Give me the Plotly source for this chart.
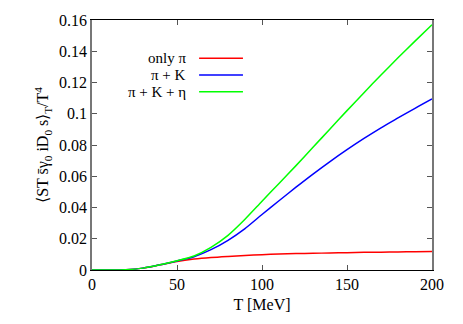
import plotly.graph_objects as go

T = [0, 10, 20, 30, 40, 50, 60, 70, 80, 90, 100, 110, 120, 130, 140, 150, 160, 170, 180, 190, 200]
only_pi = [0, 0, 0.0002, 0.0012, 0.0033, 0.0055, 0.0070, 0.0080, 0.0087, 0.0093, 0.0098,
           0.0102, 0.0105, 0.0107, 0.0109, 0.0111, 0.0113, 0.0114, 0.0116, 0.0117, 0.0118]
pi_k = [0, 0, 0.0002, 0.0012, 0.0033, 0.0058, 0.0085, 0.0130, 0.0190, 0.0265, 0.0355,
        0.0443, 0.0530, 0.0614, 0.0694, 0.0770, 0.0842, 0.0910, 0.0973, 0.1035, 0.1095]
pi_k_eta = [0, 0, 0.0002, 0.0012, 0.0033, 0.0059, 0.0090, 0.0145, 0.0222, 0.0325, 0.0440,
            0.0554, 0.0668, 0.0785, 0.0903, 0.1020, 0.1135, 0.1248, 0.1358, 0.1465, 0.1570]

names = ["only π", "π + K", "π + K + η"]
colors = ["#ff0000", "#0000ff", "#00ff00"]
series = [only_pi, pi_k, pi_k_eta]

font = "Liberation Serif, Times New Roman, serif"

fig = go.Figure()
for vals, name, col in zip(series, names, colors):
    fig.add_trace(go.Scatter(x=T, y=vals, mode="lines", name=name,
                             line=dict(color=col, width=1.5, shape="spline", smoothing=0.8),
                             showlegend=False))

# gnuplot-style legend: text on the left, line sample on the right
leg_y = [0.847, 0.780, 0.713]
for name, col, yy in zip(names, colors, leg_y):
    fig.add_annotation(x=0.279, y=yy, xref="paper", yref="paper", text=name,
                       showarrow=False, xanchor="right", yanchor="middle",
                       borderpad=0,
                       font=dict(size=15, color="black", family=font))
    fig.add_shape(type="line", xref="paper", yref="paper", x0=0.315, x1=0.444,
                  y0=yy, y1=yy, line=dict(color=col, width=1.5))

fig.update_layout(
    width=463, height=324,
    margin=dict(l=92, r=31, t=16, b=54),
    plot_bgcolor="white", paper_bgcolor="white",
    font=dict(family=font, size=16, color="black"),
    xaxis=dict(range=[0, 200], tickvals=[0, 50, 100, 150, 200], ticks="inside",
               ticklen=5, tickcolor="#555", showgrid=False, zeroline=False,
               tickfont=dict(family=font, size=16),
               showline=True, linecolor="black", linewidth=1, mirror="allticks",
               title=dict(text="T [MeV]", standoff=6, font=dict(family=font, size=16))),
    yaxis=dict(range=[0, 0.16], tickvals=[0, 0.02, 0.04, 0.06, 0.08, 0.1, 0.12, 0.14, 0.16],
               ticktext=["0", "0.02", "0.04", "0.06", "0.08", "0.1", "0.12", "0.14", "0.16"],
               tickfont=dict(family=font, size=16),
               ticks="inside", ticklen=5, tickcolor="#555", showgrid=False, zeroline=False,
               showline=True, linecolor="#777", linewidth=1.5, mirror="allticks",
               title=dict(text="⟨ST s̄γ<sub>0</sub> iD<sub>0</sub> s⟩<sub>T</sub>/T<sup>4</sup>",
                          standoff=6, font=dict(family=font, size=16))),
)

# drop the default 8px body margin of the page
fig.write_html("out.html", config={"displayModeBar": False},
               post_script="document.body.style.margin='0';")
